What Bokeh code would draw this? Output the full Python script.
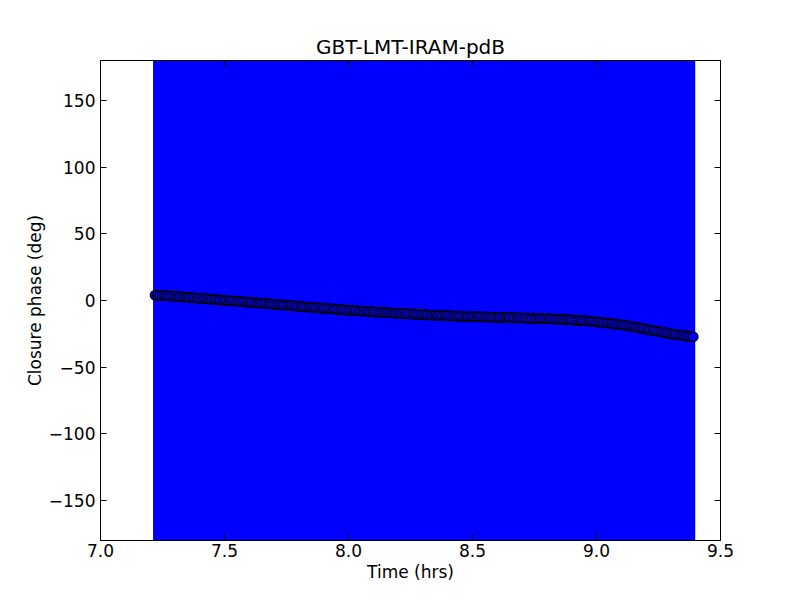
from bokeh.plotting import figure
from bokeh.models import Range1d, LinearAxis, FixedTicker, PrintfTickFormatter, CustomJSTickFormatter, ColumnDataSource
from bokeh.embed import file_html
from bokeh.resources import INLINE

time_hrs = [
    7.22, 7.23, 7.24, 7.25, 7.26, 7.27, 7.28, 7.29, 7.30, 7.31, 7.32, 7.33, 7.34, 7.35, 7.36, 7.37, 7.38, 7.39,
    7.40, 7.41, 7.42, 7.43, 7.44, 7.45, 7.46, 7.47, 7.48, 7.49, 7.50, 7.51, 7.52, 7.53, 7.54, 7.55, 7.56, 7.57,
    7.58, 7.59, 7.60, 7.61, 7.62, 7.63, 7.64, 7.65, 7.66, 7.67, 7.68, 7.69, 7.70, 7.71, 7.72, 7.73, 7.74, 7.75,
    7.76, 7.77, 7.78, 7.79, 7.80, 7.81, 7.82, 7.83, 7.84, 7.85, 7.86, 7.87, 7.88, 7.89, 7.90, 7.91, 7.92, 7.93,
    7.94, 7.95, 7.96, 7.97, 7.98, 7.99, 8.00, 8.01, 8.02, 8.03, 8.04, 8.05, 8.06, 8.07, 8.08, 8.09, 8.10, 8.11,
    8.12, 8.13, 8.14, 8.15, 8.16, 8.17, 8.18, 8.19, 8.20, 8.21, 8.22, 8.23, 8.24, 8.25, 8.26, 8.27, 8.28, 8.29,
    8.30, 8.31, 8.32, 8.33, 8.34, 8.35, 8.36, 8.37, 8.38, 8.39, 8.40, 8.41, 8.42, 8.43, 8.44, 8.45, 8.46, 8.47,
    8.48, 8.49, 8.50, 8.51, 8.52, 8.53, 8.54, 8.55, 8.56, 8.57, 8.58, 8.59, 8.60, 8.61, 8.62, 8.63, 8.64, 8.65,
    8.66, 8.67, 8.68, 8.69, 8.70, 8.71, 8.72, 8.73, 8.74, 8.75, 8.76, 8.77, 8.78, 8.79, 8.80, 8.81, 8.82, 8.83,
    8.84, 8.85, 8.86, 8.87, 8.88, 8.89, 8.90, 8.91, 8.92, 8.93, 8.94, 8.95, 8.96, 8.97, 8.98, 8.99, 9.00, 9.01,
    9.02, 9.03, 9.04, 9.05, 9.06, 9.07, 9.08, 9.09, 9.10, 9.11, 9.12, 9.13, 9.14, 9.15, 9.16, 9.17, 9.18, 9.19,
    9.20, 9.21, 9.22, 9.23, 9.24, 9.25, 9.26, 9.27, 9.28, 9.29, 9.30, 9.31, 9.32, 9.33, 9.34, 9.35, 9.36, 9.37,
    9.38, 9.39,
]
closure_phase = [
    4.0, 3.9, 3.8, 3.7, 3.6, 3.5, 3.4, 3.3, 3.2, 3.05, 2.9, 2.75, 2.6, 2.45, 2.3, 2.15, 2.0, 1.85,
    1.7, 1.55, 1.4, 1.25, 1.1, 0.95, 0.8, 0.65, 0.5, 0.35, 0.2, 0.05, -0.1, -0.25, -0.4, -0.55, -0.7, -0.85,
    -1.0, -1.15, -1.3, -1.45, -1.6, -1.75, -1.9, -2.05, -2.2, -2.35, -2.5, -2.65, -2.8, -2.95, -3.1, -3.25, -3.4, -3.55,
    -3.7, -3.85, -4.0, -4.15, -4.3, -4.45, -4.6, -4.75, -4.9, -5.05, -5.2, -5.35, -5.5, -5.65, -5.8, -5.95, -6.1, -6.25,
    -6.4, -6.55, -6.7, -6.85, -7.0, -7.15, -7.3, -7.4, -7.5, -7.65, -7.8, -7.9, -8.0, -8.15, -8.3, -8.4, -8.5, -8.65,
    -8.8, -8.9, -9.0, -9.1, -9.2, -9.3, -9.4, -9.5, -9.6, -9.7, -9.8, -9.9, -10.0, -10.1, -10.2, -10.3, -10.4, -10.5,
    -10.6, -10.7, -10.8, -10.9, -11.0, -11.05, -11.1, -11.2, -11.3, -11.35, -11.4, -11.5, -11.6, -11.65, -11.7, -11.8, -11.9, -11.95,
    -12.0, -12.05, -12.1, -12.15, -12.2, -12.25, -12.3, -12.35, -12.4, -12.45, -12.5, -12.55, -12.6, -12.65, -12.7, -12.75, -12.8, -12.85,
    -12.9, -12.95, -13.0, -13.05, -13.1, -13.15, -13.2, -13.25, -13.3, -13.35, -13.4, -13.45, -13.5, -13.55, -13.6, -13.7, -13.8, -13.9,
    -14.0, -14.05, -14.1, -14.2, -14.3, -14.4, -14.5, -14.65, -14.8, -14.9, -15.0, -15.15, -15.3, -15.45, -15.6, -15.8, -16.0, -16.2,
    -16.4, -16.6, -16.8, -17.05, -17.3, -17.55, -17.8, -18.05, -18.3, -18.6, -18.9, -19.2, -19.5, -19.8, -20.1, -20.45, -20.8, -21.15,
    -21.5, -21.85, -22.2, -22.55, -22.9, -23.25, -23.6, -23.95, -24.3, -24.65, -25.0, -25.3, -25.6, -25.85, -26.1, -26.35, -26.6, -26.8,
    -27.0, -27.2,
]
phase_error = 250.0  # error bars extend well beyond the +/-180 deg axis

x_ticks = [7.0, 7.5, 8.0, 8.5, 9.0, 9.5]
y_ticks = [-150, -100, -50, 0, 50, 100, 150]

src = ColumnDataSource(dict(
    t=time_hrs,
    cp=closure_phase,
    lo=[v - phase_error for v in closure_phase],
    hi=[v + phase_error for v in closure_phase],
))

FONT = "DejaVu Sans"
TICK = 6

p = figure(width=800, height=600, output_backend="svg", toolbar_location=None,
           x_range=Range1d(7.0, 9.5), y_range=Range1d(-180, 180),
           min_border_left=100, min_border_right=80, min_border_top=60, min_border_bottom=60,
           background_fill_color="white", border_fill_color="white")

p.title.text = "GBT-LMT-IRAM-pdB"
p.title.align = "center"
p.title.text_font = FONT
p.title.text_font_size = "20px"
p.title.text_font_style = "normal"
p.title.text_color = "black"
p.title.offset = 0
p.title.standoff = 3

p.xgrid.visible = False
p.ygrid.visible = False
p.outline_line_color = "black"
p.outline_line_width = 1

p.segment(x0="t", y0="lo", x1="t", y1="hi", source=src, line_color="blue", line_width=4)
p.scatter(x="t", y="cp", source=src, size=9.5, fill_color="blue", line_color="black", line_width=1.3)

for ax in (p.xaxis[0], p.yaxis[0]):
    ax.major_tick_in = TICK
    ax.major_tick_out = 0
    ax.minor_tick_in = 0
    ax.minor_tick_out = 0
    ax.axis_line_color = "black"
    ax.major_tick_line_color = "black"
    ax.major_label_text_font = FONT
    ax.major_label_text_font_size = "17px"
    ax.major_label_text_color = "black"
    ax.axis_label_text_font = FONT
    ax.axis_label_text_font_size = "17px"
    ax.axis_label_text_font_style = "normal"
    ax.axis_label_text_color = "black"

p.xaxis[0].ticker = FixedTicker(ticks=x_ticks)
p.xaxis[0].formatter = PrintfTickFormatter(format="%.1f")
p.xaxis[0].axis_label = "Time (hrs)"
p.xaxis[0].major_label_standoff = 3
p.xaxis[0].axis_label_standoff = 2
p.yaxis[0].ticker = FixedTicker(ticks=y_ticks)
p.yaxis[0].axis_label = "Closure phase (deg)"
p.yaxis[0].major_label_standoff = 5
p.yaxis[0].axis_label_standoff = 1

blank = CustomJSTickFormatter(code="return ''")
top = LinearAxis(ticker=FixedTicker(ticks=x_ticks), formatter=blank,
                 major_tick_in=TICK, major_tick_out=0, minor_tick_in=0, minor_tick_out=0,
                 major_label_standoff=0, axis_line_color="black")
right = LinearAxis(ticker=FixedTicker(ticks=y_ticks), formatter=blank,
                   major_tick_in=TICK, major_tick_out=0, minor_tick_in=0, minor_tick_out=0,
                   major_label_standoff=0, axis_line_color="black")
p.add_layout(top, "above")
p.add_layout(right, "right")

open("out.html", "w").write(file_html(p, INLINE))
